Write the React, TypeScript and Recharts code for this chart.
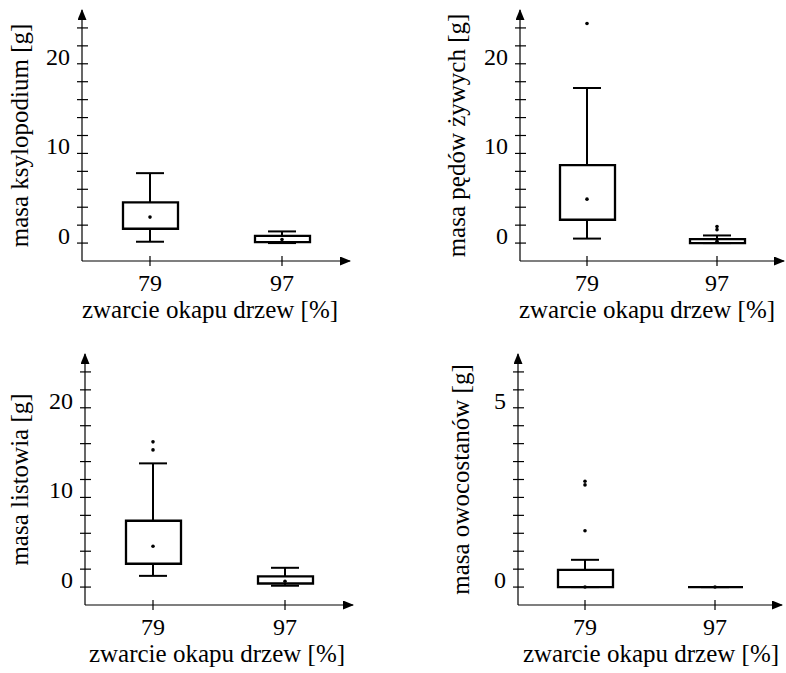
import React from 'react'
import { Bar, ComposedChart, Scatter, XAxis, YAxis } from 'recharts'

const FONT = '"Liberation Serif", "Times New Roman", serif'

const categories = ['79', '97']
const xTitle = 'zwarcie okapu drzew [%]'

// masa ksylopodium [g]
const ksyloMin = [0.15, 0.0]
const ksyloQ1 = [1.6, 0.1]
const ksyloQ3 = [4.55, 0.8]
const ksyloMax = [7.8, 1.3]
const ksyloMean = [2.9, 0.4]
const ksyloOutliers: number[][] = [[], []]

// masa pędów żywych [g]
const pedyMin = [0.5, 0.0]
const pedyQ1 = [2.6, 0.0]
const pedyQ3 = [8.7, 0.45]
const pedyMax = [17.3, 0.85]
const pedyMean = [4.9, 0.2]
const pedyOutliers: number[][] = [[24.5], [1.85, 1.5]]

// masa listowia [g]
const listMin = [1.25, 0.15]
const listQ1 = [2.6, 0.4]
const listQ3 = [7.4, 1.2]
const listMax = [13.8, 2.15]
const listMean = [4.55, 0.65]
const listOutliers: number[][] = [[16.2, 15.3], []]

// masa owocostanów [g]
const owocMin = [0, 0]
const owocQ1 = [0, 0]
const owocQ3 = [0.48, 0]
const owocMax = [0.76, 0]
const owocMean = [0, 0]
const owocOutliers: number[][] = [[2.95, 2.85, 1.57], []]

const ticks24 = [0, 2, 4, 6, 8, 10, 12, 14, 16, 18, 20, 22, 24]
const labels24 = [0, 10, 20]
const ticks6 = [0, 0.5, 1, 1.5, 2, 2.5, 3, 3.5, 4, 4.5, 5, 5.5, 6]
const labels6 = [0, 5]

function rows(min: number[], q1: number[], q3: number[], max: number[], mean: number[]) {
  return categories.map((cat, i) => ({
    cat,
    whisker: [min[i], max[i]],
    box: [q1[i], q3[i]],
    mean: mean[i],
  }))
}

function outlierRows(out: number[][]) {
  return out.flatMap((vals, i) => vals.map((v) => ({ cat: categories[i], value: v })))
}

const BoxShape = (p: any) => {
  const top = Math.min(p.y, p.y + p.height)
  const h = Math.abs(p.height)
  return (
    <path
      d={`M${p.x},${top}h${p.width}v${h}h${-p.width}Z`}
      fill="#fff"
      stroke="#000"
      strokeWidth={2.3}
    />
  )
}

const WhiskerShape = (p: any) => {
  const top = Math.min(p.y, p.y + p.height)
  const bot = Math.max(p.y, p.y + p.height)
  const cx = p.x + p.width / 2
  return (
    <g stroke="#000" strokeWidth={2}>
      <line x1={cx} x2={cx} y1={top} y2={bot} />
      <line x1={p.x} x2={p.x + p.width} y1={top} y2={top} />
      <line x1={p.x} x2={p.x + p.width} y1={bot} y2={bot} />
    </g>
  )
}

const Dot = (p: any) => <circle cx={p.cx} cy={p.cy} r={1.8} fill="#000" />

function Panel({
  left, top, yWidth, plotW, domain, ticks, labels, yTitle, labelGap, titleShift, data, outliers,
}: {
  left: number
  top: number
  yWidth: number
  plotW: number
  domain: [number, number]
  ticks: number[]
  labels: number[]
  yTitle: string
  labelGap: number
  titleShift: number
  data: ReturnType<typeof rows>
  outliers: { cat: string; value: number }[]
}) {
  const width = 395
  const YTick = (p: any) => (
    <g>
      <line x1={p.x - 5} x2={p.x + 6} y1={p.y} y2={p.y} stroke="#000" strokeWidth={1.2} />
      {labels.includes(p.payload.value) && (
        <text x={p.x - 12} y={p.y + 1} textAnchor="end" fontSize={24} fontFamily={FONT} fill="#000">
          {p.payload.value}
        </text>
      )}
    </g>
  )
  const XTick = (p: any) => (
    <g>
      <line x1={p.x} x2={p.x} y1={p.y - 5} y2={p.y + 5} stroke="#000" strokeWidth={1.2} />
      <text x={p.x} y={p.y + 30} textAnchor="middle" fontSize={24} fontFamily={FONT} fill="#000">
        {p.payload.value}
      </text>
    </g>
  )
  const YLabel = (p: any) => {
    const vb = p.viewBox
    const x = vb.x + vb.width - labelGap
    const y = vb.y + vb.height / 2
    return (
      <text x={x} y={y} transform={`rotate(-90 ${x} ${y})`} textAnchor="middle" fontSize={25} fontFamily={FONT} fill="#000">
        {yTitle}
      </text>
    )
  }
  const XLabel = (p: any) => {
    const vb = p.viewBox
    return (
      <text x={vb.x + vb.width / 2 + titleShift} y={vb.y + 57} textAnchor="middle" fontSize={25} fontFamily={FONT} fill="#000">
        {xTitle}
      </text>
    )
  }
  return (
    <div style={{ position: 'absolute', left, top }}>
      <ComposedChart
        width={width}
        height={336}
        data={data}
        margin={{ top: 10, right: width - yWidth - plotW, bottom: 0, left: 0 }}
      >
        <XAxis
          xAxisId="main"
          dataKey="cat"
          type="category"
          allowDuplicatedCategory={false}
          padding={{ left: 2, right: 2 }}
          height={75}
          tickSize={0}
          tickMargin={0}
          tickLine={false}
          interval={0}
          tick={XTick}
          axisLine={{ stroke: '#000', strokeWidth: 1.2, markerEnd: 'url(#arrowHead)' }}
          label={XLabel}
        />
        <XAxis xAxisId="w" dataKey="cat" type="category" allowDuplicatedCategory={false} padding={{ left: 2, right: 2 }} hide />
        <YAxis
          type="number"
          domain={domain}
          allowDataOverflow
          ticks={ticks}
          interval={0}
          width={yWidth}
          tickSize={0}
          tickMargin={0}
          tickLine={false}
          tick={YTick}
          axisLine={{ stroke: '#000', strokeWidth: 1.2, markerStart: 'url(#arrowHead)' }}
          label={YLabel}
        />
        <Bar xAxisId="w" dataKey="whisker" barSize={28} shape={WhiskerShape} isAnimationActive={false} />
        <Bar xAxisId="main" dataKey="box" barSize={55} shape={BoxShape} isAnimationActive={false} />
        <Scatter xAxisId="main" dataKey="mean" shape={Dot} isAnimationActive={false} />
        <Scatter xAxisId="main" data={outliers} dataKey="value" shape={Dot} isAnimationActive={false} />
      </ComposedChart>
    </div>
  )
}

export default function App() {
  return (
    <div style={{ position: 'absolute', left: 0, top: 0, width: 786, height: 673, background: '#fff', overflow: 'hidden' }}>
      <svg width={0} height={0} style={{ position: 'absolute' }}>
        <defs>
          <marker id="arrowHead" markerUnits="userSpaceOnUse" markerWidth={11} markerHeight={9} refX={10} refY={4.5} orient="auto-start-reverse">
            <path d="M0,0 L11,4.5 L0,9 Z" fill="#000" />
          </marker>
        </defs>
      </svg>
      <Panel
        left={0} top={0} yWidth={82} plotW={268} domain={[-2, 26]} ticks={ticks24} labels={labels24}
        yTitle="masa ksylopodium [g]" labelGap={54} titleShift={-6}
        data={rows(ksyloMin, ksyloQ1, ksyloQ3, ksyloMax, ksyloMean)} outliers={outlierRows(ksyloOutliers)}
      />
      <Panel
        left={393} top={0} yWidth={127} plotW={264} domain={[-2, 26]} ticks={ticks24} labels={labels24}
        yTitle="masa pędów żywych [g]" labelGap={55} titleShift={-5}
        data={rows(pedyMin, pedyQ1, pedyQ3, pedyMax, pedyMean)} outliers={outlierRows(pedyOutliers)}
      />
      <Panel
        left={0} top={344} yWidth={85} plotW={268} domain={[-2, 26]} ticks={ticks24} labels={labels24}
        yTitle="masa listowia [g]" labelGap={57} titleShift={-2}
        data={rows(listMin, listQ1, listQ3, listMax, listMean)} outliers={outlierRows(listOutliers)}
      />
      <Panel
        left={393} top={344} yWidth={125} plotW={264} domain={[-0.5, 6.5]} ticks={ticks6} labels={labels6}
        yTitle="masa owocostanów [g]" labelGap={49} titleShift={1}
        data={rows(owocMin, owocQ1, owocQ3, owocMax, owocMean)} outliers={outlierRows(owocOutliers)}
      />
    </div>
  )
}
